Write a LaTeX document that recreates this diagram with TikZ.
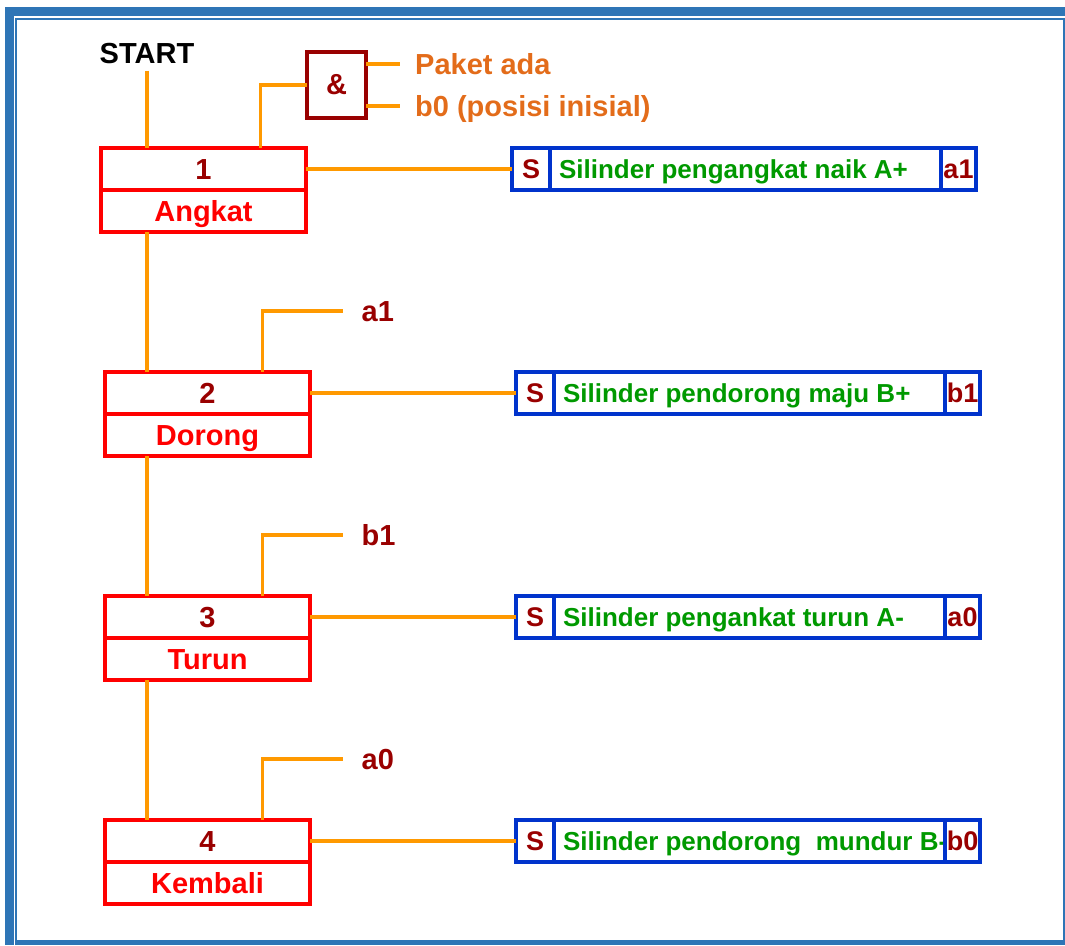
\documentclass[tikz,border=0pt]{standalone}
\usepackage{fontspec}
\setmainfont{Liberation Sans}
\usetikzlibrary{positioning}
\definecolor{wire}{HTML}{FF9900}
\definecolor{stepred}{HTML}{FF0000}
\definecolor{darkred}{HTML}{990000}
\definecolor{actblue}{HTML}{0033CC}
\definecolor{actgreen}{HTML}{009900}
\definecolor{inorange}{HTML}{E36C1A}
\definecolor{frameblue}{HTML}{2E75B6}
\newcommand{\acttext}[1]{\makebox[373pt][l]{#1}}
\tikzset{
  bigfont/.style={font=\fontsize{29}{31}\selectfont\bfseries},
  stepnum/.style={
    rectangle,
    draw=stepred,
    line width=3.2pt,
    outer sep=0pt,
    inner sep=0pt,
    minimum width=205pt,
    minimum height=42pt,
    text height=21pt,
    text depth=0pt,
    text=darkred,
    bigfont
  },
  stepname/.style={stepnum, text=stepred},
  cell/.style={
    rectangle,
    draw=actblue,
    line width=3.2pt,
    outer sep=0pt,
    inner sep=0pt,
    minimum height=42pt,
    text height=19pt,
    text depth=0pt,
    text=darkred,
    font=\fontsize{27}{30}\selectfont\bfseries
  },
  scell/.style={cell, minimum width=38pt},
  sigcell/.style={cell, minimum width=35pt},
  actcell/.style={cell, minimum width=391pt, inner xsep=9pt, text=actgreen,
    font=\fontsize{26}{30}\selectfont\bfseries},
  andgate/.style={
    rectangle,
    draw=darkred,
    line width=3.2pt,
    outer sep=0pt,
    minimum width=59pt,
    minimum height=66pt,
    text=darkred,
    bigfont
  },
  startlabel/.style={inner sep=7pt, text height=21pt, text depth=0pt, text=black, bigfont},
  inlabel/.style={anchor=west, inner sep=0pt, text height=21pt, text depth=0pt, text=inorange, bigfont},
  condlabel/.style={anchor=west, inner sep=0pt, text height=21pt, text depth=0pt, text=darkred, bigfont},
  link/.style={draw=wire, line width=3.2pt}
}

\begin{document}
\begin{tikzpicture}[x=1pt, y=-1pt]
    \useasboundingbox (0,0) rectangle (1065,945);
    % frame
    \fill[frameblue] (5,7) rectangle (1065,16);
    \fill[frameblue] (5,7) rectangle (14,945);
    \fill[frameblue] (17,940) rectangle (1065,945);
    \draw[frameblue, line width=2pt] (16,945) -- (16,19) -- (1065,19);
    \draw[frameblue, line width=2pt] (1064,19) -- (1064,940);

    % steps
    \node[startlabel] (start) at (147,53) {START};
    \node[stepnum] (n1) at (203.5,169) {1};
    \node[stepname, below=0pt of n1] (s1) {Angkat};
    \node[stepnum, below=140pt of s1, xshift=4pt] (n2) {2};
    \node[stepname, below=0pt of n2] (s2) {Dorong};
    \node[stepnum, below=140pt of s2] (n3) {3};
    \node[stepname, below=0pt of n3] (s3) {Turun};
    \node[stepnum, below=140pt of s3] (n4) {4};
    \node[stepname, below=0pt of n4] (s4) {Kembali};

    % actions
    \node[scell, right=206pt of n1] (S1) {S};
    \node[actcell, right=0pt of S1] (A1) {\acttext{Silinder pengangkat naik A+}};
    \node[sigcell, right=0pt of A1] (G1) {a1};
    \node[scell, right=206pt of n2] (S2) {S};
    \node[actcell, right=0pt of S2] (A2) {\acttext{Silinder pendorong maju B+}};
    \node[sigcell, right=0pt of A2] (G2) {b1};
    \node[scell, right=206pt of n3] (S3) {S};
    \node[actcell, right=0pt of S3] (A3) {\acttext{Silinder pengankat turun A-}};
    \node[sigcell, right=0pt of A3] (G3) {a0};
    \node[scell, right=206pt of n4] (S4) {S};
    \node[actcell, right=0pt of S4] (A4) {\acttext{Silinder pendorong\ \ mundur B-}};
    \node[sigcell, right=0pt of A4] (G4) {b0};

    % transition conditions
    \node[andgate] (and) at (336.5,85) {\&};
    \node[inlabel] (paket) at (415,64) {Paket ada};
    \node[inlabel] (b0) at (415,106) {b0 (posisi inisial)};
    \node[condlabel] (c2) at ([xshift=154pt, yshift=61pt]n2.north) {a1};
    \node[condlabel] (c3) at ([xshift=154pt, yshift=61pt]n3.north) {b1};
    \node[condlabel] (c4) at ([xshift=154pt, yshift=61pt]n4.north) {a0};

    \draw[link] (start) -- (start |- n1.north);
    \draw[link] (s1.south -| start) -- (n2.north -| start);
    \draw[link] (s2.south -| start) -- (n3.north -| start);
    \draw[link] (s3.south -| start) -- (n4.north -| start);
    \draw[link] ([xshift=57pt]n1.north) |- (and.west);
    \draw[link, shorten >=15pt] ([yshift=21pt]and.east) -- (paket.west);
    \draw[link, shorten >=15pt] ([yshift=-21pt]and.east) -- (b0.west);
    \draw[link, shorten >=19pt] ([xshift=55pt]n2.north) |- (c2.west);
    \draw[link, shorten >=19pt] ([xshift=55pt]n3.north) |- (c3.west);
    \draw[link, shorten >=19pt] ([xshift=55pt]n4.north) |- (c4.west);
    \draw[link] (n1.east) -- (S1.west);
    \draw[link] (n2.east) -- (S2.west);
    \draw[link] (n3.east) -- (S3.west);
    \draw[link] (n4.east) -- (S4.west);
\end{tikzpicture}
\end{document}
